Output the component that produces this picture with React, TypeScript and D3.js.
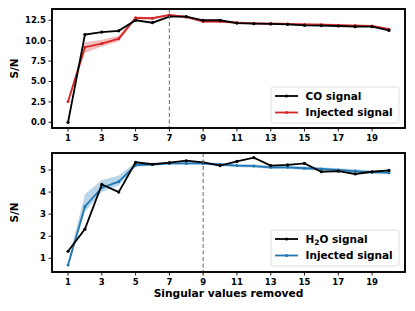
import React from 'react';
import * as d3 from 'd3';

const steps = d3.range(1, 21);

// top panel: CO
const coSignal = [0.0, 10.75, 11.05, 11.2, 12.5, 12.2, 12.95, 12.95, 12.5, 12.5, 12.15, 12.08, 12.05, 12.0, 11.88, 11.85, 11.8, 11.72, 11.72, 11.25];
const coInjected = [2.55, 9.2, 9.65, 10.25, 12.8, 12.75, 13.15, 12.9, 12.35, 12.35, 12.2, 12.12, 12.08, 12.05, 11.98, 11.95, 11.9, 11.85, 11.8, 11.4];
const coBandLo = [2.3, 8.5, 9.3, 9.9, 12.6, 12.6, 13.0, 12.75, 12.2, 12.2, 12.05, 11.98, 11.95, 11.9, 11.85, 11.82, 11.78, 11.72, 11.68, 11.28];
const coBandHi = [2.9, 9.8, 10.1, 10.6, 12.95, 12.9, 13.25, 13.05, 12.5, 12.5, 12.35, 12.26, 12.22, 12.2, 12.12, 12.1, 12.03, 11.98, 11.93, 11.55];

// bottom panel: H2O
const h2oSignal = [1.32, 2.32, 4.35, 4.0, 5.35, 5.26, 5.33, 5.42, 5.35, 5.2, 5.39, 5.56, 5.2, 5.23, 5.3, 4.92, 4.95, 4.82, 4.92, 4.98];
const h2oInjected = [0.7, 3.35, 4.2, 4.47, 5.22, 5.25, 5.3, 5.3, 5.3, 5.25, 5.2, 5.18, 5.12, 5.12, 5.08, 5.05, 5.0, 4.95, 4.9, 4.88];
const h2oBandLo = [0.6, 3.1, 4.0, 4.3, 5.15, 5.2, 5.24, 5.24, 5.24, 5.18, 5.13, 5.11, 5.05, 5.05, 5.0, 4.97, 4.92, 4.87, 4.82, 4.8];
const h2oBandHi = [0.85, 3.9, 4.55, 4.75, 5.35, 5.32, 5.36, 5.36, 5.36, 5.32, 5.28, 5.26, 5.2, 5.2, 5.16, 5.13, 5.08, 5.03, 4.98, 4.96];

const xTicks = [1, 3, 5, 7, 9, 11, 13, 15, 17, 19];
const coTicks = [0, 2.5, 5, 7.5, 10, 12.5];
const h2oTicks = [1, 2, 3, 4, 5];

const W = 415;
const H = 311;
const left = 52;
const right = 405;
const font = 'DejaVu Sans';

const x = d3.scaleLinear().domain([0.05, 20.95]).range([left, right]);

type PanelProps = {
  top: number;
  bottom: number;
  domain: [number, number];
  ticks: number[];
  fmt: (v: number) => string;
  signal: number[];
  injected: number[];
  lo: number[];
  hi: number[];
  color: string;
  cut: number;
  label: React.ReactNode;
  legendY: number;
};

const Panel = (p: PanelProps) => {
  const y = d3.scaleLinear().domain(p.domain).range([p.bottom, p.top]);
  const line = d3.line<number>().x((_, i) => x(steps[i])).y(d => y(d));
  const band = d3.area<number>()
    .x((_, i) => x(steps[i]))
    .y0((_, i) => y(p.lo[i]))
    .y1(d => y(d));
  const mid = (p.top + p.bottom) / 2;
  const lx = 271;
  return (
    <g>
      <path d={band(p.hi) || ''} fill={p.color} opacity={0.3} />
      <path d={line(p.injected) || ''} fill="none" stroke={p.color} strokeWidth={1.8} />
      {p.injected.map((v, i) => (
        <circle key={'i' + i} cx={x(steps[i])} cy={y(v)} r={1.5} fill={p.color} />
      ))}
      <path d={line(p.signal) || ''} fill="none" stroke="black" strokeWidth={1.8} />
      {p.signal.map((v, i) => (
        <circle key={'s' + i} cx={x(steps[i])} cy={y(v)} r={1.6} fill="black" />
      ))}
      <line x1={x(p.cut)} x2={x(p.cut)} y1={p.top} y2={p.bottom} stroke="grey" strokeWidth={1.2} strokeDasharray="4,2.5" />
      {/* legend */}
      <rect x={lx} y={p.legendY} width={128} height={36} rx={2} fill="white" fillOpacity={0.85} stroke="#d8d8d8" strokeWidth={0.8} />
      <line x1={275} x2={298} y1={p.legendY + 9} y2={p.legendY + 9} stroke="black" strokeWidth={1.8} />
      <circle cx={286.5} cy={p.legendY + 9} r={1.6} fill="black" />
      <text x={305.5} y={p.legendY + 9} dy="0.35em" fontFamily={font} fontWeight="bold" fontSize={10.5}>{p.label}</text>
      <line x1={275} x2={298} y1={p.legendY + 25.5} y2={p.legendY + 25.5} stroke={p.color} strokeWidth={1.8} />
      <circle cx={286.5} cy={p.legendY + 25.5} r={1.5} fill={p.color} />
      <text x={305.5} y={p.legendY + 25.5} dy="0.35em" fontFamily={font} fontWeight="bold" fontSize={10.5}>Injected signal</text>
      {/* axes */}
      <rect x={left} y={p.top} width={right - left} height={p.bottom - p.top} fill="none" stroke="black" strokeWidth={1.9} />
      {xTicks.map(t => (
        <g key={'x' + t}>
          <line x1={x(t)} x2={x(t)} y1={p.bottom} y2={p.bottom + 3.5} stroke="black" strokeWidth={0.9} />
          <text x={x(t)} y={p.bottom + 13} textAnchor="middle" fontFamily={font} fontWeight="bold" fontSize={8.5}>{t}</text>
        </g>
      ))}
      {p.ticks.map(t => (
        <g key={'y' + t}>
          <line x1={left - 3.5} x2={left} y1={y(t)} y2={y(t)} stroke="black" strokeWidth={0.9} />
          <text x={left - 6} y={y(t)} dy="0.35em" textAnchor="end" fontFamily={font} fontWeight="bold" fontSize={8.5}>{p.fmt(t)}</text>
        </g>
      ))}
      <text transform={`translate(18,${mid}) rotate(-90)`} textAnchor="middle" fontFamily={font} fontWeight="bold" fontSize={10.5}>S/N</text>
    </g>
  );
};

export default function App() {
  return (
    <div style={{ position: 'absolute', left: 0, top: 0 }}>
      <svg width={W} height={H} style={{ display: 'block', background: 'white' }}>
        <Panel top={9} bottom={128} domain={[-0.7, 13.88]} ticks={coTicks} fmt={d3.format('.1f')}
          signal={coSignal} injected={coInjected} lo={coBandLo} hi={coBandHi}
          color="#d62728" cut={7} label="CO signal" legendY={87} />
        <Panel top={153} bottom={272} domain={[0.38, 5.77]} ticks={h2oTicks} fmt={d3.format('d')}
          signal={h2oSignal} injected={h2oInjected} lo={h2oBandLo} hi={h2oBandHi}
          color="#1f77b4" cut={9} label={<>H<tspan fontSize={7.5} dy="2.5">2</tspan><tspan dy="-2.5">O signal</tspan></>} legendY={230} />
        <text x={228.5} y={297} textAnchor="middle" fontFamily={font} fontWeight="bold" fontSize={10.7}>Singular values removed</text>
      </svg>
    </div>
  );
}
